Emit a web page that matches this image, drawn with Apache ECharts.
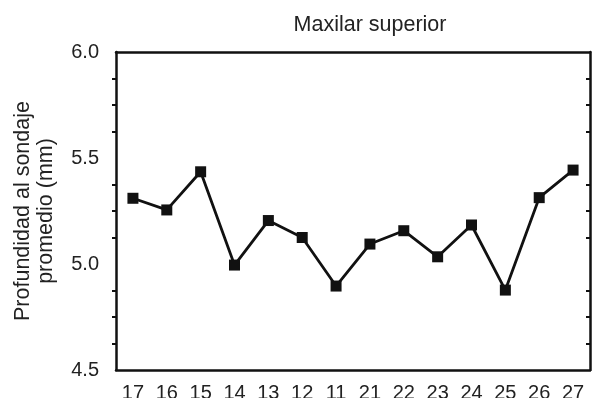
<!DOCTYPE html>
<html>
<head>
<meta charset="utf-8">
<script src="https://cdn.jsdelivr.net/npm/echarts@6/dist/echarts.min.js"></script>
<style>
  html, body { margin: 0; padding: 0; background: #fff; }
  #chart { width: 592px; height: 398px; }
</style>
</head>
<body>
<div id="chart"></div>
<script>
const teeth = ['17', '16', '15', '14', '13', '12', '11', '21', '22', '23', '24', '25', '26', '27']
const depth = [5.31, 5.255, 5.435, 4.995, 5.205, 5.125, 4.896, 5.094, 5.157, 5.034, 5.184, 4.877, 5.313, 5.443]
const yMin = 4.5
const yMax = 6.0
const yStep = 0.5

const chart = echarts.init(document.getElementById('chart'))
const ink = '#111'
const font = 'Liberation Sans, Arial, sans-serif'

const yBase = {
  type: 'value',
  min: yMin,
  max: yMax,
  interval: yStep,
  axisLine: { show: true, lineStyle: { color: ink, width: 2.5 } },
  splitLine: { show: false }
}

const option = {
  animation: false,
  title: {
    text: 'Maxilar superior',
    left: 365,
    top: 9,
    textAlign: 'center',
    textStyle: { color: '#222', fontSize: 21.5, fontWeight: 'normal', fontFamily: font }
  },
  grid: { left: 116, right: 2, top: 52, bottom: 28, containLabel: false, outerBoundsMode: 'none' },
  xAxis: [
    {
      type: 'category',
      data: teeth,
      position: 'bottom',
      boundaryGap: true,
      axisLine: { lineStyle: { color: ink, width: 2.5 } },
      axisTick: { alignWithLabel: true, length: 5, lineStyle: { color: ink, width: 2 } },
      axisLabel: { color: '#222', fontSize: 20, fontFamily: font, margin: 13, interval: 0 }
    },
    {
      type: 'category',
      data: teeth,
      position: 'top',
      boundaryGap: true,
      axisLine: { lineStyle: { color: ink, width: 2.5 } },
      axisTick: { alignWithLabel: true, inside: true, length: 5, lineStyle: { color: ink, width: 2 } },
      axisLabel: { show: false }
    }
  ],
  yAxis: [
    Object.assign({}, yBase, {
      position: 'left',
      name: 'Profundidad al sondaje\npromedio (mm)',
      nameLocation: 'middle',
      nameGap: 58,
      nameMoveOverlap: false,
      nameTextStyle: { color: '#222', fontSize: 21.5, fontFamily: font, lineHeight: 23 },
      axisTick: { length: 4, lineStyle: { color: ink, width: 2 } },
      minorTick: { show: true, splitNumber: 4, length: 4, lineStyle: { color: ink, width: 2 } },
      axisLabel: { color: '#222', fontSize: 20, fontFamily: font, margin: 17, formatter: v => v.toFixed(1) }
    }),
    Object.assign({}, yBase, {
      position: 'right',
      offset: 0,
      axisTick: { inside: true, length: 4, lineStyle: { color: ink, width: 2 } },
      minorTick: { show: true, splitNumber: 4, length: 4, lineStyle: { color: ink, width: 2 } },
      axisLabel: { show: false }
    })
  ],
  series: [
    {
      type: 'line',
      data: depth,
      xAxisIndex: 0,
      yAxisIndex: 0,
      symbol: 'rect',
      symbolSize: 11,
      lineStyle: { color: ink, width: 2.8 },
      itemStyle: { color: ink }
    }
  ]
}

chart.setOption(option)
</script>
</body>
</html>
